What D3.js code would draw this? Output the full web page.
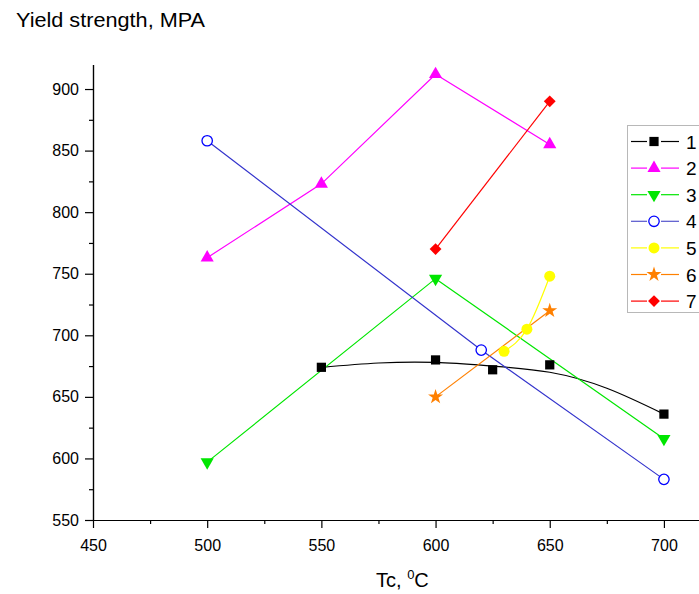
<!DOCTYPE html>
<html>
<head>
<meta charset="utf-8">
<script src="https://cdn.jsdelivr.net/npm/d3@7"></script>
<style>
  body { margin: 0; background: #fff; }
  svg { font-family: "Liberation Sans", Arial, sans-serif; }
  .axis path, .axis line { stroke: #000; stroke-width: 1.2; }
  .axis text { font-size: 16px; fill: #000; }
</style>
</head>
<body>
<div class="chart"></div>
<script>
// chart data
var seriesNames = ["1", "2", "3", "4", "5", "6", "7"];
var seriesColors = ["#000000", "#ff00ff", "#00e600", "#0000ff", "#ffff00", "#ff8000", "#ff0000"];

var s1x = [550, 600, 625, 650, 700];
var s1y = [674, 680, 672, 676, 636];
// fitted curve drawn through series 1
var fit1x = [550, 575, 600, 625, 650, 675, 700];
var fit1y = [674, 677.5, 678, 675, 670, 657, 636];

var s2x = [500, 550, 600, 650];
var s2y = [763, 823, 912, 855];

var s3x = [500, 600, 700];
var s3y = [597, 746, 616];

var s4x = [500, 620, 700];
var s4y = [858, 688, 583];

var s5x = [630, 640, 650];
var s5y = [687, 705, 748];

var s6x = [600, 650];
var s6y = [650, 720];

var s7x = [600, 650];
var s7y = [770, 890];

var xTicks = [450, 500, 550, 600, 650, 700];
var xMinor = [475, 525, 575, 625, 675];
var yTicks = [550, 600, 650, 700, 750, 800, 850, 900];
var yMinor = [575, 625, 675, 725, 775, 825, 875];

// Step 1: set up the chart
var svgWidth = 699;
var svgHeight = 594;

var svg = d3.select(".chart")
  .append("svg")
  .attr("width", svgWidth)
  .attr("height", svgHeight);

var xScale = d3.scaleLinear().domain([450, 720]).range([93, 709.6]);
var yScale = d3.scaleLinear().domain([550, 920]).range([520, 64.4]);

// Step 2: axes
svg.append("g")
  .attr("class", "axis")
  .attr("transform", "translate(0,520)")
  .call(d3.axisBottom(xScale).tickValues(xMinor).tickSize(4).tickSizeOuter(0).tickFormat(""));

svg.append("g")
  .attr("class", "axis")
  .attr("transform", "translate(0,520)")
  .call(d3.axisBottom(xScale).tickValues(xTicks).tickSize(8).tickPadding(12).tickSizeOuter(0));

svg.append("g")
  .attr("class", "axis")
  .attr("transform", "translate(93,0)")
  .call(d3.axisLeft(yScale).tickValues(yMinor).tickSize(4).tickSizeOuter(0).tickFormat(""));

svg.append("g")
  .attr("class", "axis")
  .attr("transform", "translate(93,0)")
  .call(d3.axisLeft(yScale).tickValues(yTicks).tickSize(8).tickPadding(6).tickSizeOuter(0));

// Step 3: axis titles
svg.append("text")
  .attr("x", 16)
  .attr("y", 27)
  .attr("font-size", 20)
  .attr("textLength", 189)
  .attr("lengthAdjust", "spacingAndGlyphs")
  .text("Yield strength, MPA");

var xTitle = svg.append("text")
  .attr("x", 376)
  .attr("y", 587)
  .attr("font-size", 20);
xTitle.append("tspan").text("Tc, ");
xTitle.append("tspan").attr("font-size", 13).attr("dy", -8).text("0");
xTitle.append("tspan").attr("dy", 8).text("C");

// Step 4: lines
var line = d3.line()
  .x(d => xScale(d[0]))
  .y(d => yScale(d[1]));

var zip = (xs, ys) => xs.map((v, i) => [v, ys[i]]);

var lines = [
  { pts: zip(fit1x, fit1y), color: seriesColors[0], curve: d3.curveNatural },
  { pts: zip(s2x, s2y), color: seriesColors[1], curve: d3.curveLinear },
  { pts: zip(s3x, s3y), color: seriesColors[2], curve: d3.curveLinear },
  { pts: zip(s4x, s4y), color: "#3333cc", curve: d3.curveLinear },
  { pts: zip(s5x, s5y), color: seriesColors[4], curve: d3.curveNatural },
  { pts: zip(s6x, s6y), color: seriesColors[5], curve: d3.curveLinear },
  { pts: zip(s7x, s7y), color: seriesColors[6], curve: d3.curveLinear }
];

lines.forEach(function (l) {
  svg.append("path")
    .attr("d", line.curve(l.curve)(l.pts))
    .attr("fill", "none")
    .attr("stroke", l.color)
    .attr("stroke-width", 1.2);
});

// Step 5: markers
var markerDefs = [
  { type: d3.symbolSquare, size: 85, rot: 0, fill: true },
  { type: d3.symbolTriangle, size: 75, rot: 0, fill: true },
  { type: d3.symbolTriangle, size: 75, rot: 180, fill: true },
  { type: d3.symbolCircle, size: 85, rot: 0, fill: false },
  { type: d3.symbolCircle, size: 95, rot: 0, fill: true },
  { type: d3.symbolStar, size: 70, rot: 0, fill: true },
  { type: d3.symbolSquare, size: 70, rot: 45, fill: true }
];

var pointSets = [zip(s1x, s1y), zip(s2x, s2y), zip(s3x, s3y), zip(s4x, s4y),
  zip(s5x, s5y), zip(s6x, s6y), zip(s7x, s7y)];

function drawMarker(g, i, cx, cy, scale) {
  var m = markerDefs[i];
  g.append("path")
    .attr("d", d3.symbol().type(m.type).size(m.size * (scale || 1))())
    .attr("transform", `translate(${cx},${cy}) rotate(${m.rot})`)
    .attr("fill", m.fill ? seriesColors[i] : "#fff")
    .attr("stroke", m.fill ? "none" : seriesColors[i])
    .attr("stroke-width", 1.3);
}

pointSets.forEach(function (pts, i) {
  pts.forEach(function (p) {
    drawMarker(svg, i, xScale(p[0]), yScale(p[1]));
  });
});

// Step 6: legend
var legend = svg.append("g");
legend.append("rect")
  .attr("x", 627.5)
  .attr("y", 125.5)
  .attr("width", 90)
  .attr("height", 187)
  .attr("fill", "#fff")
  .attr("stroke", "#b8b8b8");

seriesNames.forEach(function (name, i) {
  var yy = 141.5 + i * 26.6;
  var lc = i === 3 ? "#5555cc" : seriesColors[i];
  legend.append("line").attr("x1", 631).attr("x2", 647).attr("y1", yy).attr("y2", yy)
    .attr("stroke", lc).attr("stroke-width", 1.2);
  legend.append("line").attr("x1", 661).attr("x2", 679).attr("y1", yy).attr("y2", yy)
    .attr("stroke", lc).attr("stroke-width", 1.2);
  drawMarker(legend, i, 654, yy, 1);
  legend.append("text")
    .attr("x", 686)
    .attr("y", yy + 7)
    .attr("font-size", 19)
    .text(name);
});
</script>
</body>
</html>
